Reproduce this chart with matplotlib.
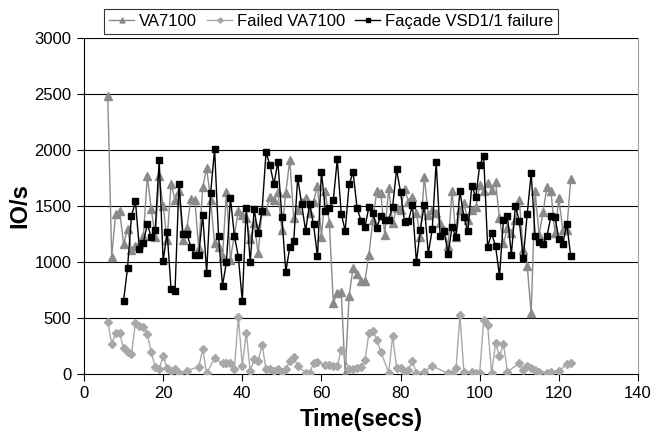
"""
IO/s over time: VA7100, failed VA7100 and Facade VSD1/1 failure
"""

import matplotlib
matplotlib.use("Agg")
import matplotlib.pyplot as plt

# VA7100, one sample per second from t=6 to t=123
va_time = list(range(6, 124))
va_iops = [2480, 1048, 1429, 1458, 1161, 1292, 1110, 1140, 1160, 1230,
           1768, 1470, 1226, 1768, 1500, 1196, 1696, 1554, 1634, 1196,
           1300, 1560, 1554, 1122, 1667, 1836, 1554, 1167, 1137, 1048,
           1628, 1020, 1240, 1458, 1420, 1390, 1202, 1345, 1077, 1464,
           1458, 1577, 1554, 1628, 1286, 1619, 1911, 1390, 1464, 1539,
           1568, 1435, 1539, 1679, 1226, 1634, 1345, 637, 720, 735,
           0, 696, 949, 890, 830, 833, 1063, 1375, 1637, 1619,
           1241, 1658, 1345, 1479, 1464, 1649, 1539, 1577, 1435, 1226,
           1762, 1420, 1464, 1435, 1345, 1286, 1143, 1637, 1226, 1464,
           1524, 1375, 1464, 1488, 1688, 1637, 1708, 1640, 1717, 1390,
           1167, 1301, 1256, 1375, 1554, 1107, 967, 542, 1634, 1241,
           1443, 1673, 1637, 1256, 1568, 1286, 1286, 1738]

# Failed VA7100 (some seconds have no sample)
failed_time = [6, 7, 8, 9, 10, 11, 12, 13, 14, 15, 16, 17, 18, 19, 20, 21,
               22, 23, 24, 26, 29, 30, 31, 33, 35, 36, 37, 38, 39, 40, 41,
               42, 43, 44, 45, 46, 47, 48, 49, 50, 51, 52, 53, 54, 56, 57,
               58, 59, 61, 62, 63, 64, 65, 67, 68, 69, 70, 71, 72, 73, 74,
               75, 77, 78, 79, 80, 81, 82, 83, 84, 86, 88, 92, 93, 94, 95,
               96, 98, 99, 100, 101, 102, 103, 104, 105, 106, 107, 110, 111,
               112, 113, 114, 115, 117, 118, 120, 122, 123]
failed_iops = [464, 268, 363, 363, 229, 199, 179, 458, 430, 417, 357, 193,
               65, 42, 161, 51, 30, 45, 6, 30, 65, 220, 6, 140, 95, 95, 95,
               45, 512, 74, 369, 27, 131, 116, 259, 45, 45, 27, 45, 21, 45,
               116, 149, 71, 12, 6, 95, 110, 80, 80, 71, 71, 214, 45, 45,
               51, 65, 125, 363, 387, 304, 199, 12, 339, 51, 51, 21, 36,
               116, 6, 21, 71, 6, 0, 51, 524, 21, 21, 12, 12, 482, 438, 6,
               274, 161, 268, 21, 95, 36, 71, 56, 36, 21, 12, 21, 27, 86, 95]

# Facade VSD1/1 failure, t=10 to t=123
facade_time = list(range(10, 124))
facade_iops = [655, 946, 1411, 1542, 1116, 1173, 1339, 1220, 1286, 1911,
               1006, 1271, 759, 741, 1693, 1250, 1250, 1137, 1060, 1065,
               1420, 905, 1616, 2006, 1232, 789, 1000, 1571, 1235, 1048,
               652, 1485, 997, 1470, 1256, 1458, 1979, 1863, 1693, 1896,
               1402, 914, 1131, 1185, 1753, 1515, 1280, 1515, 1336, 1051,
               1807, 1458, 1479, 1551, 1917, 1432, 1280, 1693, 1801, 1485,
               1369, 1310, 1494, 1435, 1307, 1414, 1375, 1378, 1494, 1827,
               1622, 1360, 1366, 1512, 997, 1289, 1512, 1074, 1292, 1893,
               1235, 1274, 1074, 1310, 1226, 1634, 1399, 1277, 1682, 1580,
               1863, 1946, 1137, 1256, 1143, 875, 1375, 1408, 1066, 1497,
               1369, 1033, 1429, 1792, 1235, 1176, 1161, 1232, 1408, 1405,
               1205, 1161, 1342, 1051]

x_ticks = [0, 20, 40, 60, 80, 100, 120, 140]
y_ticks = [0, 500, 1000, 1500, 2000, 2500, 3000]

plt.rcParams['font.family'] = ['Liberation Sans', 'DejaVu Sans']

W, H = 655, 444
fig = plt.figure(figsize=(W / 100, H / 100), dpi=100)
ax = fig.add_axes([84 / W, 1 - 374 / H, (638 - 84) / W, (374 - 38) / H])

ax.plot(va_time, va_iops, color='#8a8a8a', lw=1, marker='^', ms=6,
        mec='#8a8a8a', mfc='#8a8a8a', label='VA7100', zorder=3)
ax.plot(failed_time, failed_iops, color='#a8a8a8', lw=1, marker='D', ms=4.5,
        mec='#a8a8a8', mfc='#a8a8a8', label='Failed VA7100', zorder=3)
ax.plot(facade_time, facade_iops, color='black', lw=1, marker='s', ms=5,
        mec='black', mfc='black', label='Façade VSD1/1 failure', zorder=4)

ax.set_xlim(0, 140)
ax.set_ylim(0, 3000)
ax.set_xticks(x_ticks)
ax.set_yticks(y_ticks)
ax.tick_params(labelsize=12, length=5, width=0.8, direction='out', pad=4)
for y in y_ticks[1:]:
    ax.axhline(y, color='black', lw=0.8, zorder=1)

ax.spines['top'].set_visible(False)
ax.spines['right'].set_color('#a0a0a0')
ax.spines['left'].set_linewidth(0.8)
ax.spines['bottom'].set_linewidth(0.8)

ax.set_xlabel('Time(secs)', fontsize=17, fontweight='bold', labelpad=5)
ax.set_ylabel('IO/s', fontsize=17, fontweight='bold', labelpad=2)

leg = ax.legend(loc='upper left', bbox_to_anchor=(104 / W, 1 - 9 / H),
                bbox_transform=fig.transFigure, ncol=3, fontsize=12,
                frameon=True, fancybox=False, edgecolor='black',
                borderaxespad=0, borderpad=0.3, handlelength=1.5,
                handletextpad=0.3, columnspacing=0.6, markerscale=0.6)
leg.get_frame().set_linewidth(0.8)

fig.savefig('out.png', dpi=100)
